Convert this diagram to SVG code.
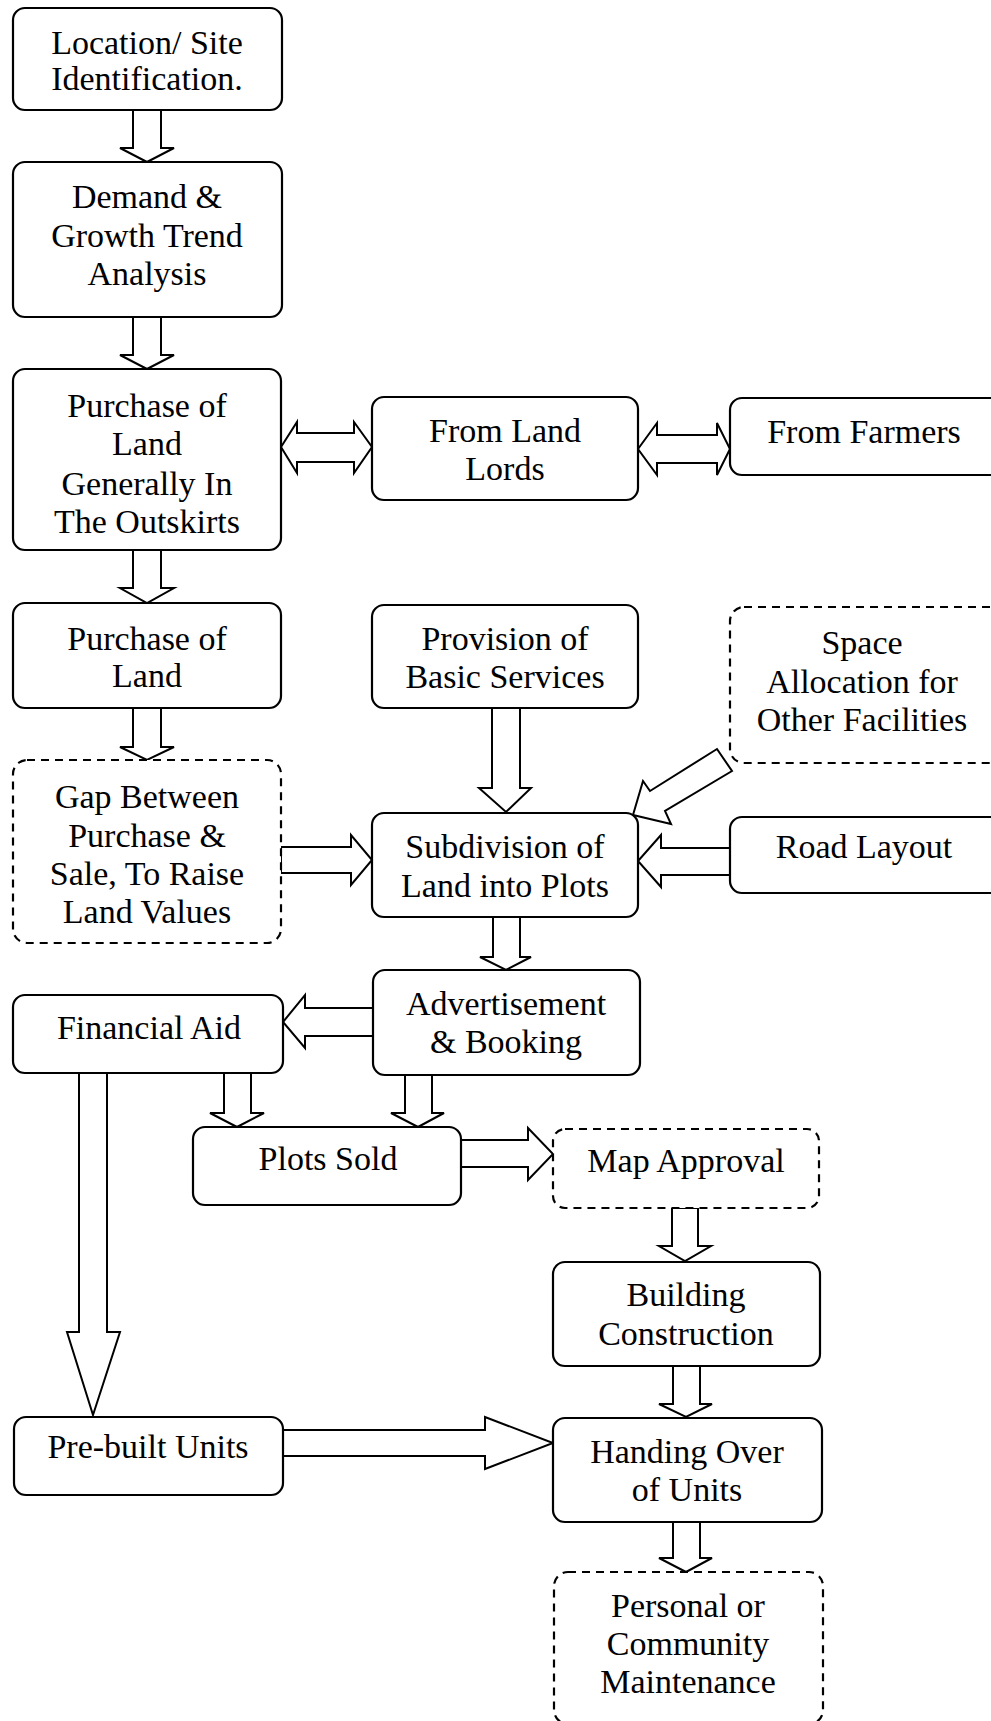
<svg xmlns="http://www.w3.org/2000/svg" width="991" height="1721" viewBox="0 0 991 1721">
<style>
.box{fill:#fff;stroke:#000;stroke-width:2.2}
.dash{fill:#fff;stroke:#000;stroke-width:2.2;stroke-dasharray:8 6}
.arr{fill:#fff;stroke:#000;stroke-width:2;stroke-linejoin:miter}
text{font-family:"Liberation Serif","Times New Roman",serif;font-size:34px;fill:#000;text-anchor:middle}
</style>
<rect width="991" height="1721" fill="#fff"/>
<g id="connectors">
<polygon class="arr" points="133,110 133,148 120,148 147,162 174,148 161,148 161,110"/>
<polygon class="arr" points="133,317 133,355 120,355 147,369 174,355 161,355 161,317"/>
<polygon class="arr" points="133,550 133,588 120,588 147,603 174,588 161,588 161,550"/>
<polygon class="arr" points="133,708 133,747 120,747 147,760 174,747 161,747 161,708"/>
<polygon class="arr" points="492,708 492,788 479,788 506,812 531,788 520,788 520,708"/>
<polygon class="arr" points="493,917 493,957 480,957 506,970 531,957 520,957 520,917"/>
<polygon class="arr" points="224,1073 224,1113 210,1113 237,1127 264,1113 251,1113 251,1073"/>
<polygon class="arr" points="405,1075 405,1113 391,1113 418,1127 444,1113 432,1113 432,1075"/>
<polygon class="arr" points="672,1208 672,1246 659,1246 685,1261 711,1246 698,1246 698,1208"/>
<polygon class="arr" points="673,1366 673,1404 659,1404 686,1417 712,1404 700,1404 700,1366"/>
<polygon class="arr" points="673,1522 673,1558 659,1558 686,1572 712,1558 700,1558 700,1522"/>
<polygon class="arr" points="79,1073 79,1332 67,1332 93,1415 120,1332 107,1332 107,1073"/>
<polygon class="arr" points="281,447 297,422 297,433 354,433 354,422 372,447 354,473 354,462 297,462 297,473"/>
<polygon class="arr" points="638,449 657,423 657,435 717,435 717,423 730,449 717,475 717,463 657,463 657,475"/>
<polygon class="arr" points="281,847 351,847 351,835 372,860 351,885 351,873 281,873"/>
<polygon class="arr" points="730,848 661,848 661,835 638,861 661,887 661,875 730,875"/>
<polygon class="arr" points="373,1008 305,1008 305,995 283,1022 305,1048 305,1036 373,1036"/>
<polygon class="arr" points="461,1140 528,1140 528,1128 553,1154 528,1180 528,1167 461,1167"/>
<polygon class="arr" points="283,1430 485,1430 485,1417 553,1443 485,1469 485,1456 283,1456"/>
<polygon class="arr" points="717,749 732,771 665,811 671,824 633,815 643,781 650,791"/>
</g>
<g id="n-location"><rect class="box" x="13" y="8" width="269" height="102" rx="12"/><text x="147" y="54">Location/ Site</text><text x="147" y="90">Identification.</text></g>
<g id="n-demand"><rect class="box" x="13" y="162" width="269" height="155" rx="12"/><text x="147" y="208">Demand &amp;</text><text x="147" y="247">Growth Trend</text><text x="147" y="285">Analysis</text></g>
<g id="n-purchase"><rect class="box" x="13" y="369" width="268" height="181" rx="12"/><text x="147" y="417">Purchase of</text><text x="147" y="455">Land</text><text x="147" y="495">Generally In</text><text x="147" y="533">The Outskirts</text></g>
<g id="n-landlords"><rect class="box" x="372" y="397" width="266" height="103" rx="12"/><text x="505" y="442">From Land</text><text x="505" y="480">Lords</text></g>
<g id="n-farmers"><rect class="box" x="730" y="398" width="275" height="77" rx="12"/><text x="864" y="443">From Farmers</text></g>
<g id="n-purchase2"><rect class="box" x="13" y="603" width="268" height="105" rx="12"/><text x="147" y="650">Purchase of</text><text x="147" y="687">Land</text></g>
<g id="n-provision"><rect class="box" x="372" y="605" width="266" height="103" rx="12"/><text x="505" y="650">Provision of</text><text x="505" y="688">Basic Services</text></g>
<g id="n-space"><rect class="dash" x="730" y="607" width="275" height="156" rx="14"/><text x="862" y="654">Space</text><text x="862" y="693">Allocation for</text><text x="862" y="731">Other Facilities</text></g>
<g id="n-gap"><rect class="dash" x="13" y="760" width="268" height="183" rx="14"/><text x="147" y="808">Gap Between</text><text x="147" y="847">Purchase &amp;</text><text x="147" y="885">Sale, To Raise</text><text x="147" y="923">Land Values</text></g>
<g id="n-subdivision"><rect class="box" x="372" y="813" width="266" height="104" rx="12"/><text x="505" y="858">Subdivision of</text><text x="505" y="897">Land into Plots</text></g>
<g id="n-road"><rect class="box" x="730" y="817" width="275" height="76" rx="12"/><text x="864" y="858">Road Layout</text></g>
<g id="n-advert"><rect class="box" x="373" y="970" width="267" height="105" rx="12"/><text x="506" y="1015">Advertisement</text><text x="506" y="1053">&amp; Booking</text></g>
<g id="n-finaid"><rect class="box" x="13" y="995" width="270" height="78" rx="12"/><text x="149" y="1039">Financial Aid</text></g>
<g id="n-plots"><rect class="box" x="193" y="1127" width="268" height="78" rx="12"/><text x="328" y="1170">Plots Sold</text></g>
<g id="n-map"><rect class="dash" x="553" y="1129" width="266" height="79" rx="12"/><text x="686" y="1172">Map Approval</text></g>
<g id="n-building"><rect class="box" x="553" y="1262" width="267" height="104" rx="12"/><text x="686" y="1306">Building</text><text x="686" y="1345">Construction</text></g>
<g id="n-prebuilt"><rect class="box" x="14" y="1417" width="269" height="78" rx="12"/><text x="148" y="1458">Pre-built Units</text></g>
<g id="n-handing"><rect class="box" x="553" y="1418" width="269" height="104" rx="12"/><text x="687" y="1463">Handing Over</text><text x="687" y="1501">of Units</text></g>
<g id="n-personal"><rect class="dash" x="554" y="1572" width="269" height="152" rx="14"/><text x="688" y="1617">Personal or</text><text x="688" y="1655">Community</text><text x="688" y="1693">Maintenance</text></g>
</svg>
